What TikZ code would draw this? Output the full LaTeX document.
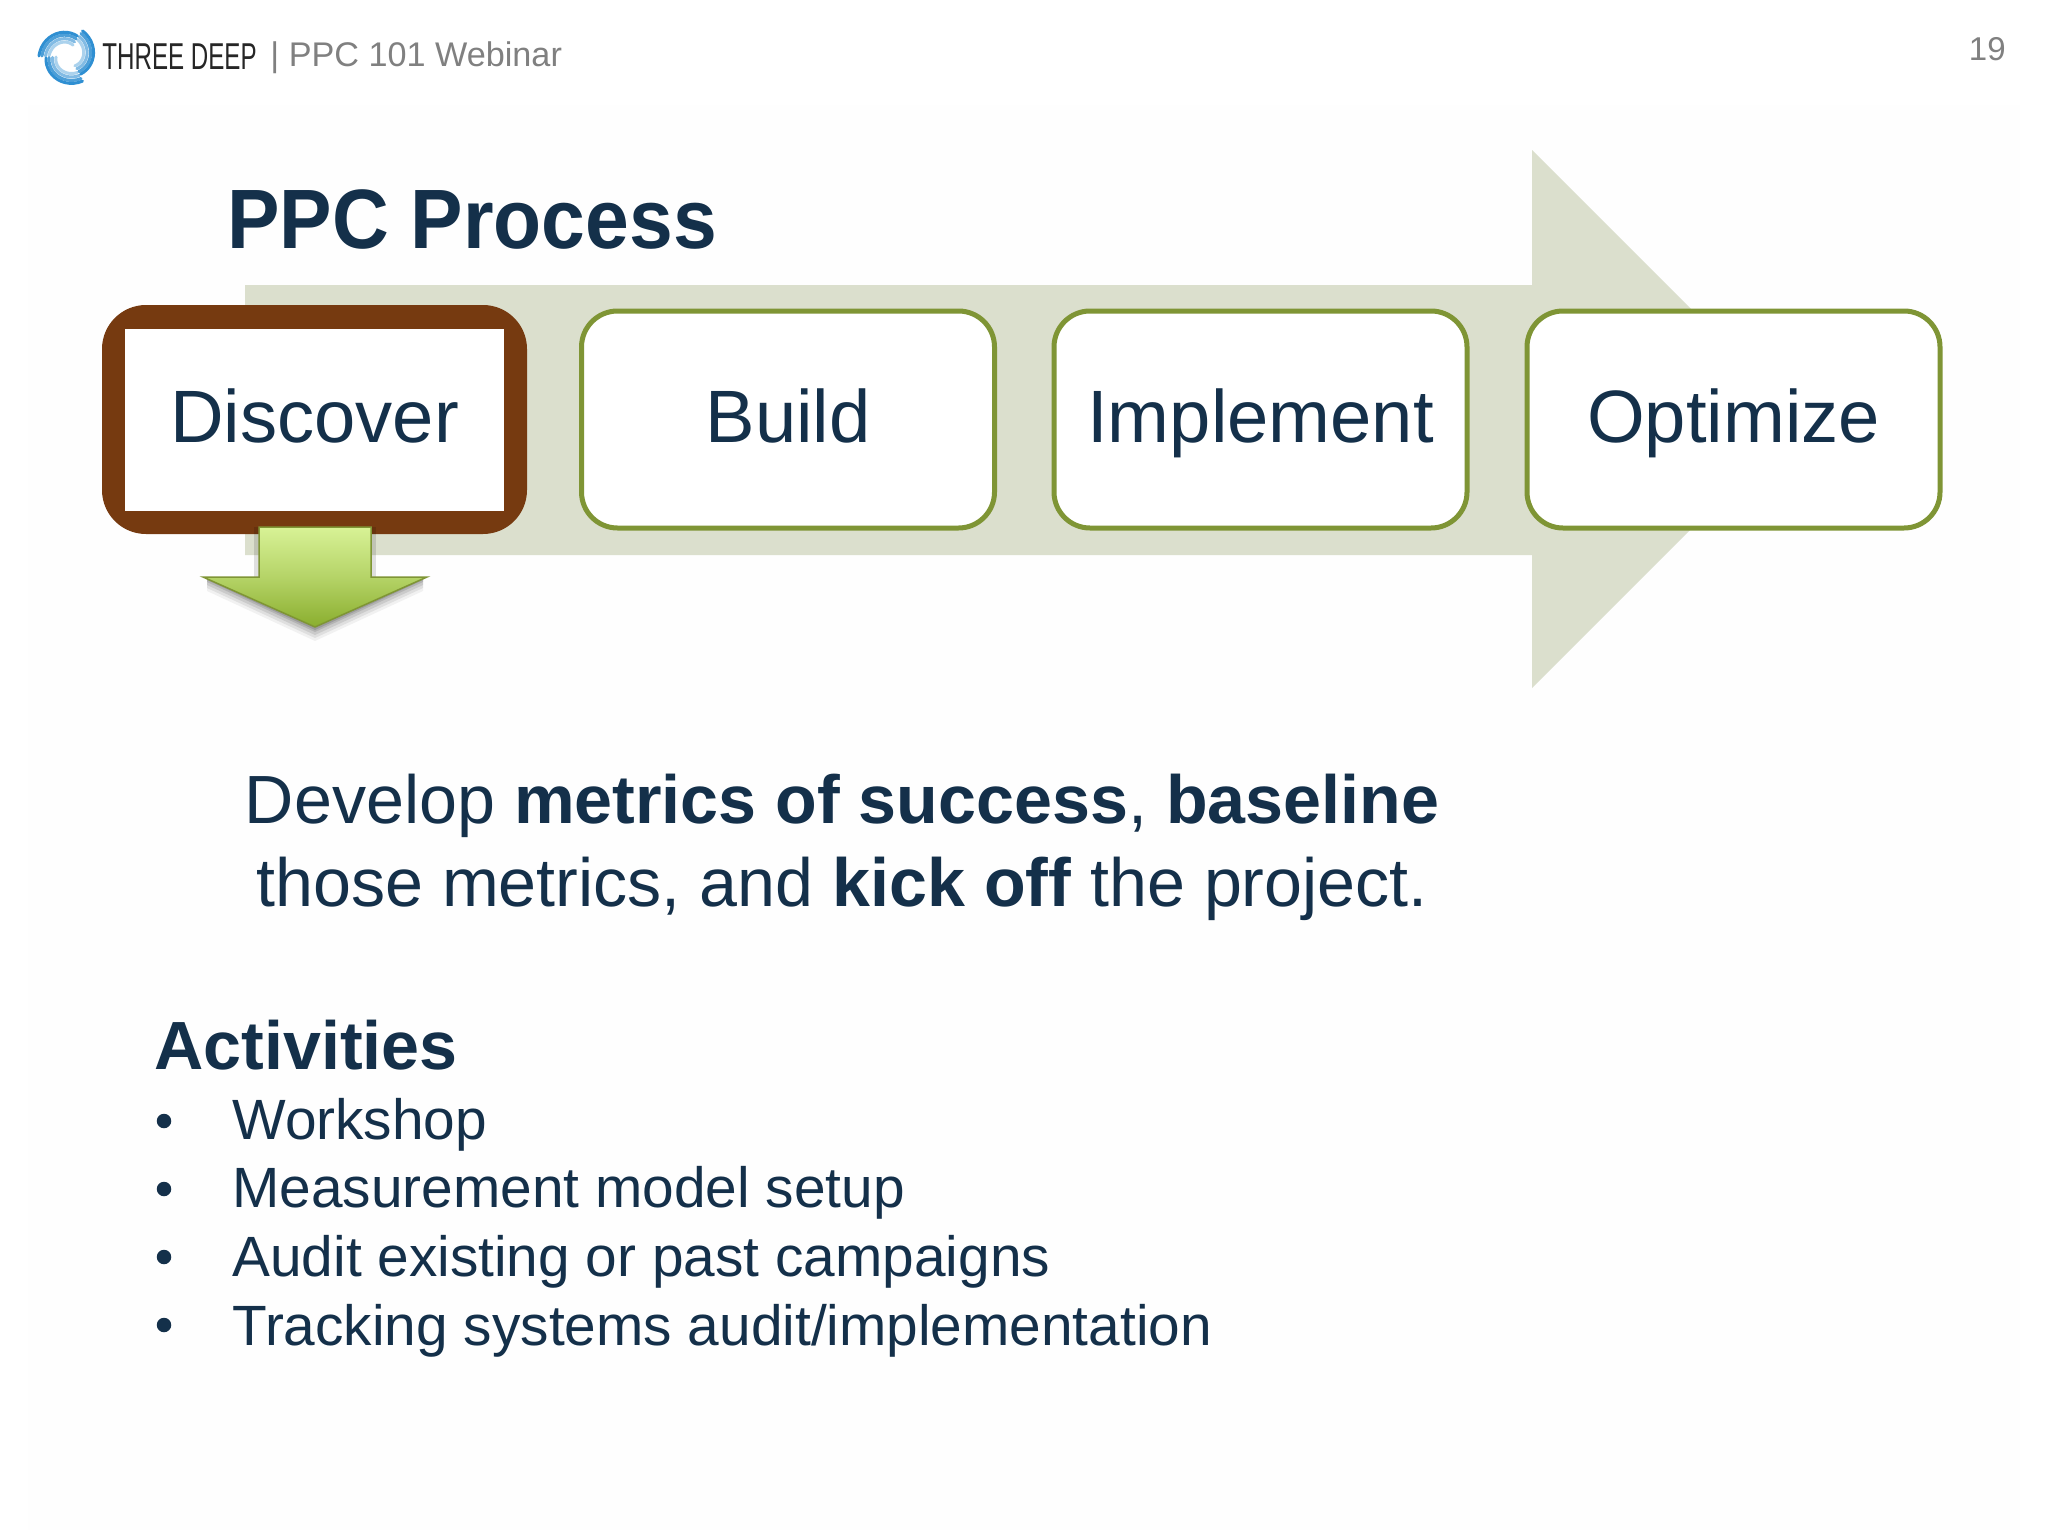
\documentclass[tikz,border=0pt]{standalone}
\usepackage{fontspec}
\setmainfont{Liberation Sans}
\definecolor{ink}{HTML}{14304A}
\definecolor{headgrey}{HTML}{808080}
\definecolor{bigarrow}{HTML}{DBDFCD}
\definecolor{boxgreen}{HTML}{7F9535}
\definecolor{discbrown}{HTML}{763A10}
\definecolor{arrowtop}{HTML}{D8F296}
\definecolor{arrowbot}{HTML}{8AAE2E}
\definecolor{logoblue}{HTML}{2F8FD2}
\definecolor{faint}{HTML}{FEFEFE}
\newcommand{\fsz}[1]{\fontsize{#1}{#1}\selectfont}
\tikzset{
  boxtext/.style={inner sep=0pt,text=ink,font=\fsz{37.1},text height=29pt,text depth=6pt,align=center},
  stepbox/.style={boxtext,draw=boxgreen,line width=2.5pt,fill=white,rounded corners=18pt,minimum width=206.5pt,minimum height=108.5pt},
  label/.style={inner sep=0pt,anchor=base west,text=ink},
  bodytext/.style={label,font=\fsz{28.4}},
  dot/.style={circle,fill=ink,inner sep=0pt,minimum size=7.25pt},
  blade/.style={line width=1.5pt,line cap=round}
}
\begin{document}
\begin{tikzpicture}[x=.5pt,y=-.5pt]
\useasboundingbox (0,0) rectangle (2048,1536);
\fill[white] (0,0) rectangle (2048,1536);
\fill[faint] (28,105) rectangle (2020,1530);

% logo swirl
\begin{scope}[shift={(68,56)}]
 \foreach \rot in {10,130,250}{
  \foreach \rr/\op in {16/.4,19.5/.6,23/.85,26/1}{
   \draw[blade,logoblue,opacity=\op,rotate=\rot] plot[domain=-170:-55,samples=14,smooth] (\x:{\rr+3-(\x+170)/115*7});
  }
 }
\end{scope}
\node[inner sep=0pt,anchor=base west,text=black!85] (brand) at (102,69) {\fsz{17}\scalebox{.71}[1.1]{THREE DEEP}};
\node[inner sep=0pt,anchor=base west,text=headgrey] (head) at (270,66.5) {\fsz{17.1}| PPC 101 Webinar};
\node[inner sep=0pt,anchor=base east,text=headgrey] (pageno) at (2006,61) {\fsz{16.5}19};

% big background arrow
\fill[bigarrow] (245,285) -- (1532,285) -- (1532,150) -- (1801,419) -- (1532,688) -- (1532,555) -- (245,555) -- cycle;

\node[label,font=\bfseries\fsz{39}] (title) at (227,248) {\scalebox{1.008}[1.08]{PPC Process}};

% process boxes
\fill[discbrown,rounded corners=22pt] (102,305) rectangle (527,534);
\node[boxtext,fill=white,minimum width=189.5pt,minimum height=91pt] (discover) at (314.5,419.5) {Discover};
\node[stepbox] (build) at (788,419.5) {Build};
\node[stepbox] (implement) at (1260.5,419.5) {Implement};
\node[stepbox] (optimize) at (1733.5,419.5) {Optimize};

% down arrow shadow
\foreach \d/\o in {14/.05,11/.07,8/.09,5/.11,3/.13}{
 \fill[black,opacity=\o] (207,577+\d) -- (315,627+\d) -- (423,577+\d) -- (423,577) -- (207,577) -- cycle;
}
\fill[black,opacity=.12] (254,527) rectangle (376,577);
% down arrow
\draw[draw=boxgreen,line width=.75pt,top color=arrowtop,bottom color=arrowbot,middle color=arrowtop!55!arrowbot]
  (259,527) -- (371,527) -- (371,577) -- (427,577) -- (315,627) -- (203,577) -- (259,577) -- cycle;

% description
\node[text=ink,inner sep=0pt,anchor=base,font=\fsz{34.1}] (desc1) at (842,823.5) {Develop \textbf{metrics of success}, \textbf{baseline}};
\node[text=ink,inner sep=0pt,anchor=base,font=\fsz{34.1}] (desc2) at (842,906) {those metrics, and \textbf{kick off} the project.};

% activities
\node[label,font=\bfseries\fsz{34.1}] (act) at (154,1069) {Activities};
\node[dot] (b1) at (164,1121) {};
\node[bodytext] (t1) at (232,1139) {Workshop};
\node[dot] (b2) at (164,1189) {};
\node[bodytext] (t2) at (232,1207.5) {Measurement model setup};
\node[dot] (b3) at (164,1257) {};
\node[bodytext] (t3) at (232,1276) {Audit existing or past campaigns};
\node[dot] (b4) at (164,1325) {};
\node[bodytext] (t4) at (232,1345) {Tracking systems audit/implementation};
\end{tikzpicture}
\end{document}
